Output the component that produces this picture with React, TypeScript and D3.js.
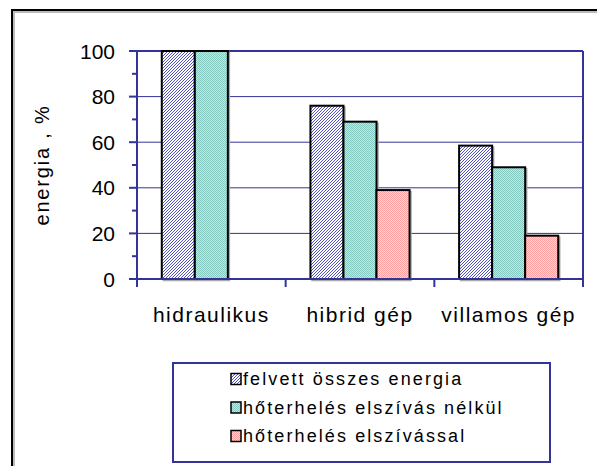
import React from "react";
import * as d3 from "d3";

const categories = ["hidraulikus", "hibrid gép", "villamos gép"];
const seriesNames = [
  "felvett összes energia",
  "hőterhelés elszívás nélkül",
  "hőterhelés elszívással",
];
const felvett = [100, 76, 58.5];
const elszivasNelkul = [100, 69, 49];
const elszivassal = [0, 39, 19];
const yTicks = [0, 20, 40, 60, 80, 100];
const yMinorTicks = [10, 30, 50, 70, 90];

const series = [felvett, elszivasNelkul, elszivassal];
const fills = ["url(#patBlue)", "url(#patTeal)", "url(#patPink)"];
const axisColor = "#333399";

export default function App() {
  const W = 597;
  const H = 466;
  const plot = { left: 137, right: 583, top: 51, bottom: 279 };

  const x = d3
    .scaleBand<string>()
    .domain(categories)
    .range([plot.left, plot.right]);
  const inner = d3
    .scaleBand<number>()
    .domain([0, 1, 2])
    .range([0, x.bandwidth()])
    .paddingOuter(0.75);
  const y = d3.scaleLinear().domain([0, 100]).range([plot.bottom, plot.top]);

  const font = "'Liberation Sans', Arial, sans-serif";

  return (
    <svg
      width={W}
      height={H}
      style={{ position: "absolute", left: 0, top: 0, background: "#fff" }}
    >
      <defs>
        <pattern id="patBlue" width="3" height="3" patternUnits="userSpaceOnUse">
          <rect width="3" height="3" fill="#ffffff" />
          <path d="M0,3 L3,0 M-1,1 L1,-1 M2,4 L4,2" stroke="#3c3cc0" strokeWidth="0.9" />
        </pattern>
        <pattern id="patTeal" width="2" height="2" patternUnits="userSpaceOnUse">
          <rect width="2" height="2" fill="#c6e6e2" />
          <rect width="1" height="1" fill="#84c8c0" />
          <rect x="1" y="1" width="1" height="1" fill="#84c8c0" />
        </pattern>
        <pattern id="patPink" width="2" height="2" patternUnits="userSpaceOnUse">
          <rect width="2" height="2" fill="#ffdada" />
          <rect width="1" height="1" fill="#ff9f9f" />
          <rect x="1" y="1" width="1" height="1" fill="#ff9f9f" />
        </pattern>
      </defs>

      {/* outer chart border */}
      <path d={`M13,${H + 5} L13,11 L${W + 5},11`} fill="none" stroke="#bbb" strokeWidth={2} transform="translate(1,1)" />
      <path d={`M12,${H + 5} L12,10 L${W + 5},10`} fill="none" stroke="#000" strokeWidth={2} />

      {/* gridlines */}
      {yTicks.map((t) => (
        <line key={"g" + t} x1={plot.left} x2={plot.right} y1={y(t)} y2={y(t)} stroke={axisColor} strokeWidth={1} />
      ))}
      <line x1={plot.left} x2={plot.right} y1={plot.top} y2={plot.top} stroke={axisColor} strokeWidth={2} />
      <line x1={plot.right} x2={plot.right} y1={plot.top} y2={plot.bottom} stroke={axisColor} strokeWidth={2} />

      {/* bars */}
      {categories.map((c, ci) =>
        series.map((s, si) => {
          const v = s[ci];
          if (v <= 0) return null;
          const bx = (x(c) ?? 0) + (inner(si) ?? 0);
          const bw = inner.bandwidth();
          return (
            <g key={c + si}>
              <rect x={bx + 1.5} y={y(v) + 1.5} width={bw} height={y(0) - y(v)} fill="none" stroke="#aaa" strokeWidth={1.5} />
              <rect x={bx} y={y(v)} width={bw} height={y(0) - y(v)} fill={fills[si]} stroke="#000" strokeWidth={2} />
            </g>
          );
        })
      )}

      {/* y axis */}
      <line x1={plot.left} x2={plot.left} y1={plot.top} y2={plot.bottom + 8} stroke={axisColor} strokeWidth={2} />
      {yTicks.map((t) => (
        <g key={"t" + t}>
          <line x1={plot.left - 8} x2={plot.left} y1={y(t)} y2={y(t)} stroke={axisColor} strokeWidth={2} />
          <text x={115} y={y(t)} dy="0.36em" textAnchor="end" fontFamily={font} fontSize={21} fill="#000">
            {t}
          </text>
        </g>
      ))}
      {yMinorTicks.map((t) => (
        <line key={"m" + t} x1={plot.left - 5} x2={plot.left} y1={y(t)} y2={y(t)} stroke={axisColor} strokeWidth={2} />
      ))}
      <text
        transform={`translate(49,${(plot.top + plot.bottom) / 2}) rotate(-90)`}
        textAnchor="middle"
        fontFamily={font}
        fontSize={20}
        letterSpacing={1.8}
        fill="#000"
      >
        energia , %
      </text>

      {/* x axis */}
      <line x1={plot.left - 8} x2={plot.right} y1={plot.bottom} y2={plot.bottom} stroke={axisColor} strokeWidth={2} />
      {categories.map((c) => (
        <line key={"xt" + c} x1={(x(c) ?? 0) + x.bandwidth()} x2={(x(c) ?? 0) + x.bandwidth()} y1={plot.bottom} y2={plot.bottom + 8} stroke={axisColor} strokeWidth={2} />
      ))}
      {categories.map((c) => (
        <text key={"xl" + c} x={(x(c) ?? 0) + x.bandwidth() / 2} y={322} textAnchor="middle" fontFamily={font} fontSize={21} letterSpacing={1.5} fill="#000">
          {c}
        </text>
      ))}

      {/* legend */}
      <rect x={173} y={363} width={377} height={99} fill="#fff" stroke={axisColor} strokeWidth={2} />
      {seriesNames.map((n, i) => {
        const cy = 379 + i * 28.5;
        return (
          <g key={n}>
            <rect x={231} y={cy - 5.5} width={10} height={11} fill={fills[i]} stroke="#000" strokeWidth={1.5} />
            <text x={243} y={cy} dy="0.36em" fontFamily={font} fontSize={18} letterSpacing={2.1} fill="#000">
              {n}
            </text>
          </g>
        );
      })}
    </svg>
  );
}
